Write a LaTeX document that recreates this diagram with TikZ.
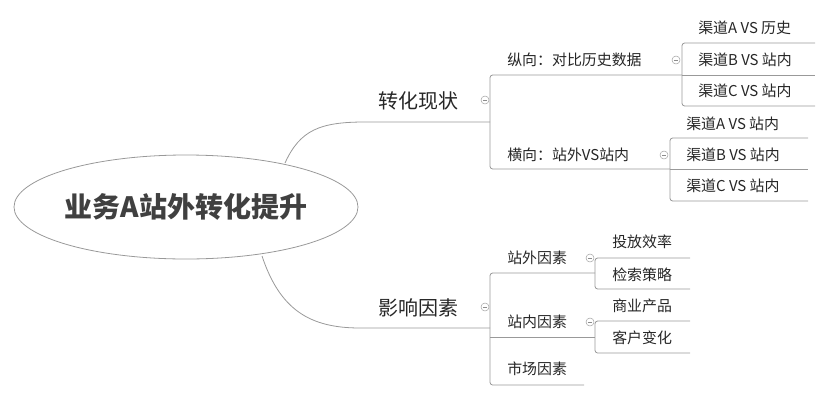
\documentclass[tikz,border=0pt]{standalone}
\usepackage{fontspec}
\setmainfont{Noto Sans CJK SC}
\usetikzlibrary{positioning,shapes.geometric}

\tikzset{
  line/.style={draw=black!40, line width=0.6pt},
  bracket/.style={line, rounded corners=2pt},
  topic/.style={anchor=west, inner sep=0pt, font=\fontsize{15}{15}\selectfont, text=black!85},
  subtopic/.style={anchor=west, inner sep=0pt, font=\fontsize{11.2}{11.2}\selectfont, text=black!85},
  fold/.style={circle, draw=black!35, fill=white, minimum size=6pt, inner sep=0pt, line width=0.4pt,
    path picture={\draw[black!45, line width=0.4pt] ([xshift=-1.6pt]path picture bounding box.center) -- ([xshift=1.6pt]path picture bounding box.center);}}
}

\begin{document}
\begin{tikzpicture}[x=0.75pt, y=-0.75pt]
\useasboundingbox (0,0) rectangle (835,400);

% root
\node[ellipse, draw=black!40, line width=0.6pt, minimum width=258pt, minimum height=78pt, inner sep=0pt,
  font=\fontsize{21}{21}\selectfont\bfseries, text=black!75] (root) at (186,207) {业务A站外转化提升};

% main topics
\node[topic] (zh) at (378,101) {转化现状};
\node[topic] (yx) at (378,308) {影响因素};
\draw[line] (285,163) .. controls (300,130) and (320,122) .. (365,122) -- (490,122) coordinate (zhEnd);
\draw[line] (262,256) .. controls (280,310) and (310,328) .. (360,328) -- (490,328) coordinate (yxEnd);
\node[fold] (f1) at (485,100) {};
\node[fold] (f2) at (485,307) {};

% level 2
\node[subtopic] (zx) at (507,60) {纵向：对比历史数据};
\node[subtopic] (hx) at (507,155) {横向：站外VS站内};
\draw[bracket] (682,75) -- (490,75) -- (490,169) -- (670,169);
\node[fold] (f3) at (676,60) {};
\node[fold] (f4) at (664,155) {};

\node[subtopic] (zw) at (507,258) {站外因素};
\node[subtopic] (zn) at (507,322) {站内因素};
\node[subtopic] (sc) at (507,369) {市场因素};
\draw[bracket] (595,273) -- (490,273) -- (490,385) -- (584,385);
\draw[line] (490,337) -- (595,337);
\node[fold] (f5) at (590,258) {};
\node[fold] (f6) at (590,322) {};

% level 3
\foreach \t/\y in {渠道A VS 历史/28, 渠道B VS 站内/60, 渠道C VS 站内/91}
  \node[subtopic] at (698,\y) {\t};
\draw[bracket] (815,43) -- (682,43) -- (682,106) -- (815,106);
\draw[line] (682,75) -- (815,75);

\foreach \t/\y in {渠道A VS 站内/124, 渠道B VS 站内/155, 渠道C VS 站内/186}
  \node[subtopic] at (686,\y) {\t};
\draw[bracket] (808,138) -- (670,138) -- (670,201) -- (808,201);
\draw[line] (670,169) -- (808,169);

\node[subtopic] (tf) at (612,242) {投放效率};
\node[subtopic] (js) at (612,275) {检索策略};
\draw[bracket] (690,258) -- (595,258) -- (595,289) -- (690,289);
\node[subtopic] (sy) at (612,306) {商业产品};
\node[subtopic] (kh) at (612,338) {客户变化};
\draw[bracket] (690,321) -- (595,321) -- (595,353) -- (690,353);
\end{tikzpicture}
\end{document}
